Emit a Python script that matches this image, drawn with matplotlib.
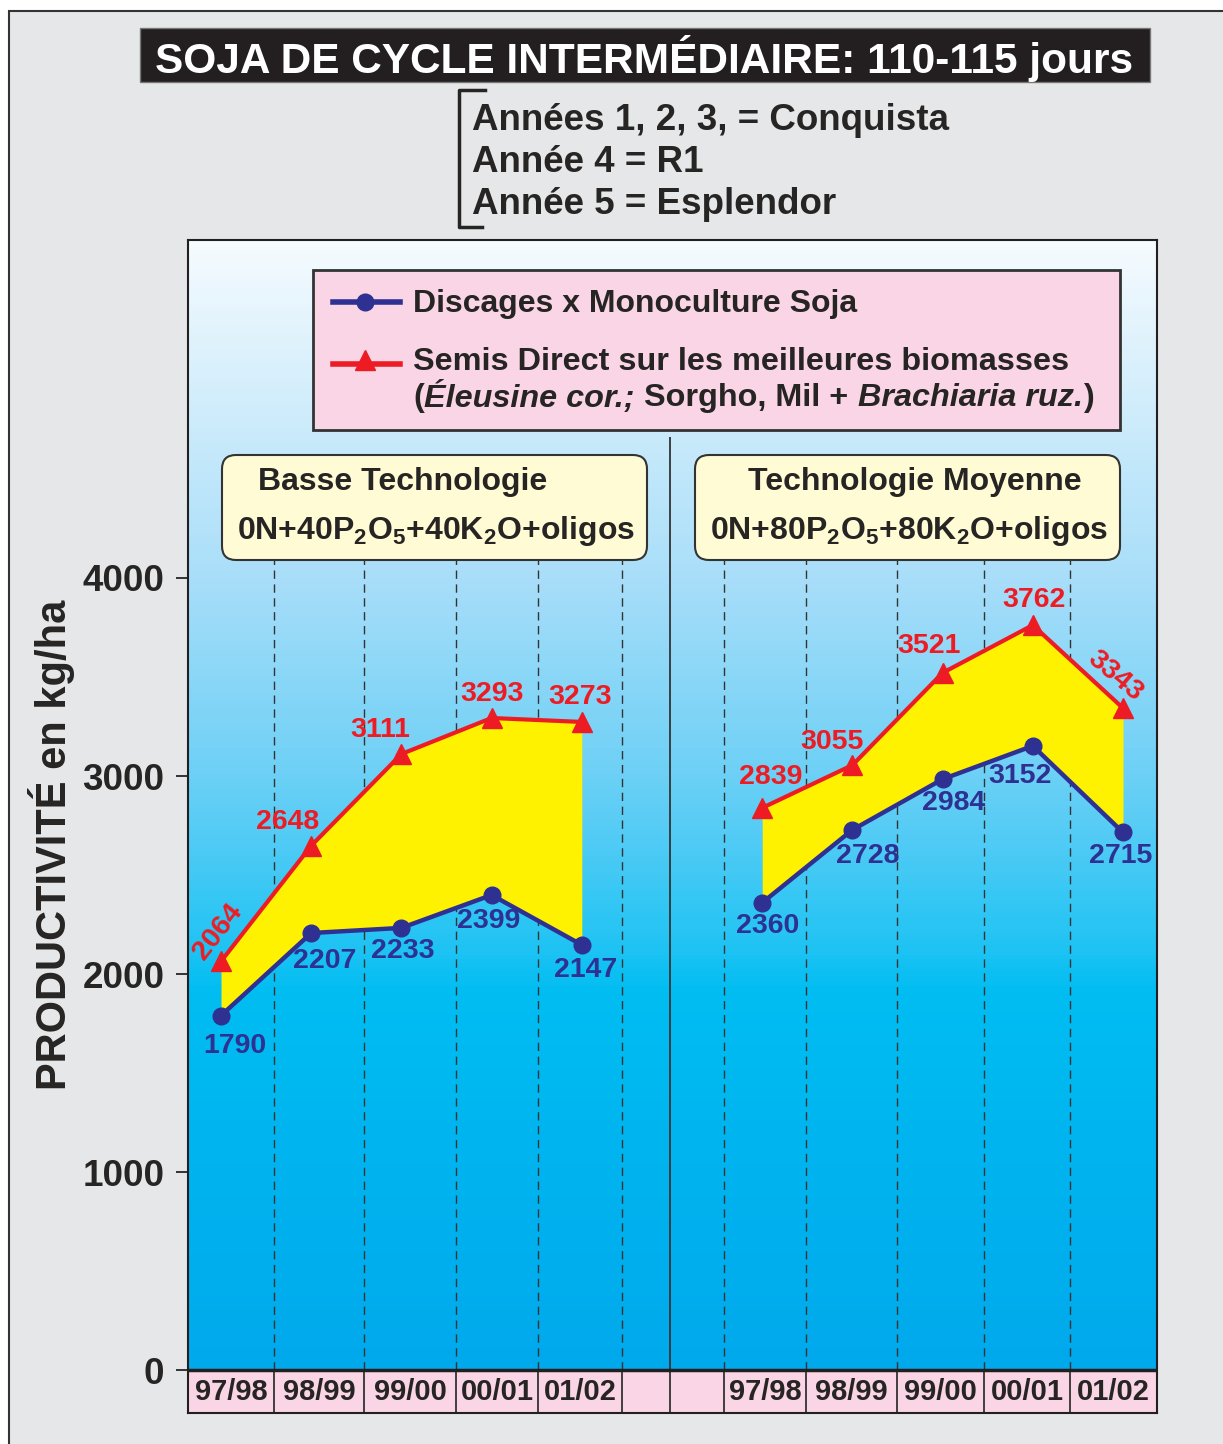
import matplotlib
matplotlib.use('Agg')
import matplotlib.pyplot as plt
import numpy as np
from matplotlib.colors import LinearSegmentedColormap
from matplotlib.patches import Rectangle, FancyBboxPatch
from matplotlib.lines import Line2D

plt.rcParams['font.family'] = ['Liberation Sans', 'DejaVu Sans']
plt.rcParams['font.weight'] = 'bold'
plt.rcParams['mathtext.default'] = 'regular'

# Rendements (kg/ha) par campagne
campagnes = ['97/98', '98/99', '99/00', '00/01', '01/02']
discages_basse = [1790, 2207, 2233, 2399, 2147]
semis_basse = [2064, 2648, 3111, 3293, 3273]
discages_moy = [2360, 2728, 2984, 3152, 2715]
semis_moy = [2839, 3055, 3521, 3762, 3343]

# positions des campagnes : panneau gauche 0..4, panneau droit 6..10
x_basse = np.arange(5)
x_moy = np.arange(6, 11)

# décalage des étiquettes de valeur (points) et rotation
off_semis_basse = [(-2, 21, 52), (-17, 17, 0), (-15, 17, 0), (0, 17, 0), (-1, 18, 0)]
off_disc_basse = [(10, -22), (10, -20), (1, -17), (-2, -19), (3, -18)]
off_semis_moy = [(6, 22, 0), (-15, 17, 0), (-10, 19, 0), (1, 18, 0), (-6, 23, -40)]
off_disc_moy = [(4, -17), (11, -19), (8, -17), (-9, -22), (-2, -17)]

# séparations des cases de campagnes
cases_basse = [-0.366, 0.588, 1.585, 2.605, 3.514, 4.446]
cases_moy = [5.576, 6.486, 7.494, 8.459, 9.412, 10.377]
divider = 4.978

BLUE = '#2e3192'
RED = '#ed1c24'
YELLOW = '#fff200'
DARK = '#262524'
PINK = '#f9d5e5'

W, H = 1223, 1444
fig = plt.figure(figsize=(W / 100, H / 100), dpi=100)
fig.patch.set_facecolor('white')

# fond gris encadré
bg = fig.add_axes([0, 0, 1, 1], zorder=0)
bg.set_xlim(0, W)
bg.set_ylim(H, 0)
bg.axis('off')
bg.add_patch(Rectangle((9, 11), W, H, fc='#e6e7e8', ec='#333333', lw=1.5))

# axes principaux
ymax = 5707
ybot = -217
xmin, xmax = -0.366, 10.377
ax = fig.add_axes([188 / W, (H - 1413) / H, 969 / W, 1173 / H], zorder=1)
ax.set_xlim(xmin, xmax)
ax.set_ylim(ybot, ymax)

cmap = LinearSegmentedColormap.from_list('ciel', [
    (0.0, '#00a9ec'), (1900 / ymax, '#00bdf2'), (2150 / ymax, '#22c4f4'),
    (3000 / ymax, '#6dd0f6'), (4000 / ymax, '#a8def9'), (1.0, '#f6fbfe')])
grad = np.linspace(0, ymax, 300).reshape(-1, 1)
ax.imshow(grad, extent=[xmin, xmax, 0, ymax], origin='lower', aspect='auto',
          cmap=cmap, vmin=0, vmax=ymax, zorder=0)
ax.axhspan(ybot, 0, color=PINK, zorder=0)

# lignes de séparation
seps = cases_basse[1:] + cases_moy[:-1]
ax.vlines(seps, 0, 4091, colors='#333333', lw=1, linestyles=(0, (6, 4)), zorder=1)
ax.vlines(seps, ybot, 0, colors='#333333', lw=1.3, zorder=1)
ax.vlines(divider, ybot, 4712, colors='#333333', lw=1.3, zorder=1)
ax.axhline(0, color='#231f20', lw=2.5, zorder=5)

# zones et courbes
for xs, disc, semis in [(x_basse, discages_basse, semis_basse),
                        (x_moy, discages_moy, semis_moy)]:
    ax.fill_between(xs, disc, semis, color=YELLOW, lw=0, zorder=2)
    ax.plot(xs, semis, color=RED, lw=3, marker='^', ms=14, zorder=3)
    ax.plot(xs, disc, color=BLUE, lw=3.2, marker='o', ms=12, zorder=4)

# étiquettes de valeur
for xs, vals, offs in [(x_basse, semis_basse, off_semis_basse),
                       (x_moy, semis_moy, off_semis_moy)]:
    for x, v, (dx, dy, rot) in zip(xs, vals, offs):
        ax.annotate(str(v), (x, v), xytext=(dx, dy), textcoords='offset points',
                    ha='center', va='center', fontsize=20.5, color=RED,
                    rotation=rot, zorder=6)
for xs, vals, offs in [(x_basse, discages_basse, off_disc_basse),
                       (x_moy, discages_moy, off_disc_moy)]:
    for x, v, (dx, dy) in zip(xs, vals, offs):
        ax.annotate(str(v), (x, v), xytext=(dx, dy), textcoords='offset points',
                    ha='center', va='center', fontsize=20.5, color=BLUE, zorder=6)

# libellés des campagnes dans la bande rose
for cases in (cases_basse, cases_moy):
    for i, lab in enumerate(campagnes):
        ax.text((cases[i] + cases[i + 1]) / 2, ybot / 2, lab, ha='center',
                va='center', fontsize=21, color=DARK)

ax.set_xticks([])
ax.set_yticks([0, 1000, 2000, 3000, 4000])
ax.tick_params(axis='y', length=9, width=1.3, pad=8, labelsize=26.5,
               colors=DARK)
for s in ax.spines.values():
    s.set_color('#231f20')
    s.set_linewidth(1.5)

fig.text(52 / W, 1 - 845 / H, 'PRODUCTIVITÉ en kg/ha', rotation=90,
         ha='center', va='center', fontsize=30, color=DARK)

# éléments de mise en page (coordonnées pixel)
deco = fig.add_axes([0, 0, 1, 1], zorder=3)
deco.set_xlim(0, W)
deco.set_ylim(H, 0)
deco.axis('off')
deco.patch.set_visible(False)

deco.add_patch(Rectangle((140, 28), 1010, 54, fc='#231f20', ec='#777777', lw=1))
deco.text(644, 58, 'SOJA DE CYCLE INTERMÉDIAIRE: 110-115 jours', ha='center',
          va='center', fontsize=30.5, color='white')

deco.add_line(Line2D([485, 459, 459, 482], [90, 90, 227, 227], color=DARK, lw=2.5))
for y, txt in [(121, 'Années 1, 2, 3, = Conquista'), (163, 'Année 4 = R1'),
               (204, 'Année 5 = Esplendor')]:
    deco.text(472, y, txt, ha='left', va='center', fontsize=26.5, color=DARK)

# légende
deco.add_patch(Rectangle((313, 270), 807, 160, fc=PINK, ec='#333333', lw=2))
deco.add_line(Line2D([333, 400], [302, 302], color=BLUE, lw=4))
deco.plot([365], [302], marker='o', color=BLUE, ms=12)
deco.text(413, 304, 'Discages x Monoculture Soja', ha='left', va='center',
          fontsize=23, color=DARK)
deco.add_line(Line2D([333, 400], [364, 364], color=RED, lw=4))
deco.plot([365], [360], marker='^', color=RED, ms=14)
deco.text(413, 362, 'Semis Direct sur les meilleures biomasses', ha='left',
          va='center', fontsize=23.3, color=DARK)

# ligne mixte romain / italique, posée morceau par morceau
renderer = fig.canvas.get_renderer()
inv = deco.transData.inverted()
xpos = 413
for piece, style in [('(', 'normal'), ('Éleusine cor.;', 'italic'),
                     (' Sorgho, Mil + ', 'normal'), ('Brachiaria ruz.', 'italic'),
                     (')', 'normal')]:
    t = deco.text(xpos, 398, piece, ha='left', va='center', fontsize=23.3,
                  style=style, color=DARK)
    bb = t.get_window_extent(renderer)
    xpos = inv.transform((bb.x1, bb.y0))[0] + (1 if style == 'italic' else 0)

# cadres des niveaux de technologie
for x0, xt, titre, formule in [
        (222, 403, 'Basse Technologie', r'0N+40P$_2$O$_5$+40K$_2$O+oligos'),
        (695, 915, 'Technologie Moyenne', r'0N+80P$_2$O$_5$+80K$_2$O+oligos')]:
    deco.add_patch(FancyBboxPatch((x0, 455), 425, 105,
                                  boxstyle='round,pad=0,rounding_size=14',
                                  fc='#fffbd5', ec='#333333', lw=1.5))
    deco.text(xt, 482, titre, ha='center', va='center', fontsize=23,
              color=DARK)
    deco.text(x0 + 214, 531, formule, ha='center', va='center', fontsize=23,
              color=DARK)

fig.savefig('out.png', dpi=100)
